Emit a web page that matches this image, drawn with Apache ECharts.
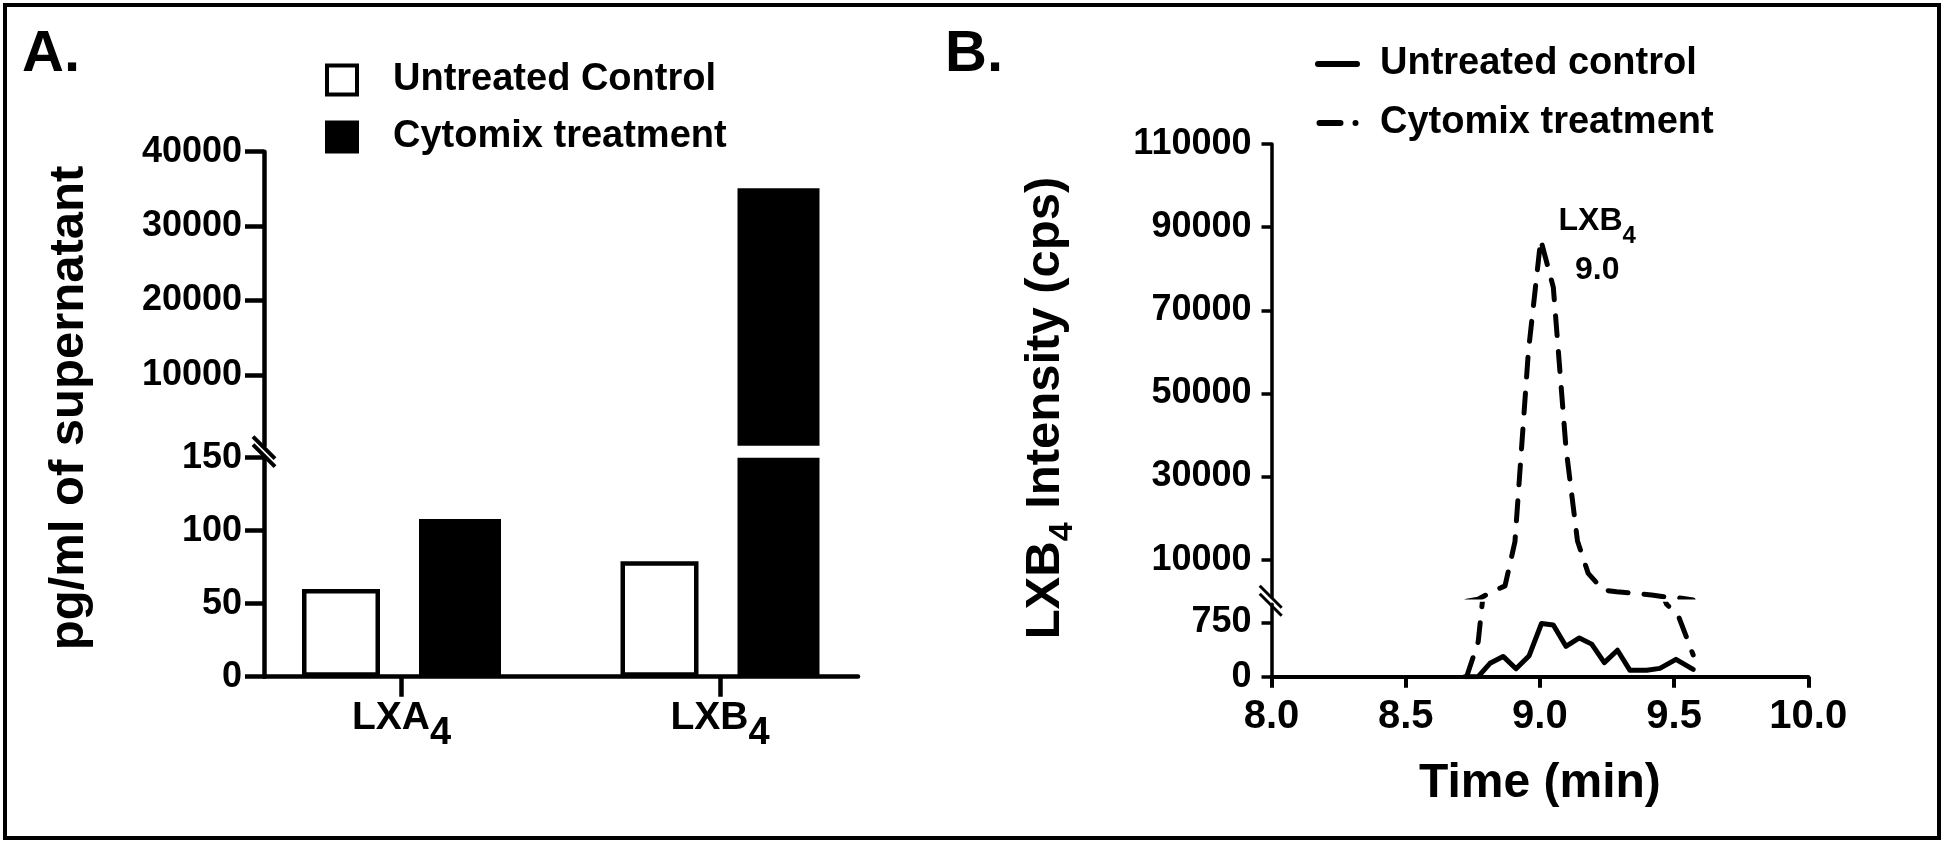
<!DOCTYPE html>
<html>
<head>
<meta charset="utf-8">
<script src="https://cdn.jsdelivr.net/npm/echarts@6.0.0/dist/echarts.min.js"></script>
<style>
html,body{margin:0;padding:0;background:#fff;}
#chart{width:1950px;height:847px;}
</style>
</head>
<body>
<div id="chart"></div>
<script>
// ---------------- DATA ----------------
// Panel A: lipoxin levels (pg/ml of supernatant)
const barCategories = ['LXA4', 'LXB4'];
const untreatedPg = [60, 79];
const cytomixPg = [108, 35100];
const aLowerTicks = [0, 50, 100, 150];
const aUpperTicks = [10000, 20000, 30000, 40000];

// Panel B: LXB4 chromatogram (time in min, intensity in cps)
const controlTime = [8.720, 8.770, 8.814, 8.863, 8.911, 8.960, 9.006, 9.050, 9.097, 9.147, 9.193, 9.240, 9.289, 9.335, 9.398, 9.447, 9.507, 9.571];
const controlCps  = [0, 0, 185, 280, 110, 290, 735, 715, 420, 535, 450, 195, 365, 90, 90, 115, 240, 100];
const cytomixTime = [8.727, 8.770, 8.816, 8.870, 8.907, 8.957, 9.003, 9.050, 9.097, 9.140, 9.180, 9.236, 9.286, 9.329, 9.416, 9.472, 9.515, 9.571];
const cytomixCps  = [0, 480, 2100, 3700, 14300, 60000, 87000, 75500, 37000, 14500, 6700, 2700, 2300, 2060, 1500, 1000, 850, 300];
const bXTicks = [8.0, 8.5, 9.0, 9.5, 10.0];
const bLowerTicks = [0, 750];
const bUpperTicks = [10000, 30000, 50000, 70000, 90000, 110000];

// ---------------- LAYOUT ----------------
const FONT = "'Liberation Sans', Arial, Helvetica, sans-serif";
const A = {x0: 264, x1: 858, upTop: 151.7, upBot: 445.7, loTop: 457.7, loBot: 676.7,
           barL: 242.25, barR: 879.25, lo: [0, 150], up: [500, 40000]};
const B = {x0: 1271.5, x1: 1808.3, upTop: 144, upBot: 597.1, loTop: 604.3, loBot: 676.7,
           lo: [0, 1000], up: [1000, 110000]};

function grid(l, r, t, b) {
  return {left: l, top: t, width: r - l, height: b - t, containLabel: false, outerBoundsMode: 'none'};
}
function hiddenAxis(gi, min, max, extra) {
  return Object.assign({type: 'value', gridIndex: gi, min: min, max: max, show: false}, extra || {});
}
const blk = '#000';
function lbl(size, margin, extra) {
  return Object.assign({show: true, color: blk, fontFamily: FONT, fontWeight: 'bold', fontSize: size, margin: margin}, extra || {});
}
function line(w) { return {show: true, onZero: false, lineStyle: {color: blk, width: w}}; }
function tick(len, w, extra) { return Object.assign({show: true, length: len, lineStyle: {color: blk, width: w}}, extra || {}); }
const noSplit = {show: false};

const subRich = (main, sub, lh, extra) => ({
  b: Object.assign({fontSize: main, fontWeight: 'bold', fontFamily: FONT, color: blk, lineHeight: lh}, extra || {}),
  s: Object.assign({fontSize: sub, fontWeight: 'bold', fontFamily: FONT, color: blk, lineHeight: sub, verticalAlign: 'bottom'}, extra || {})
});

const peakIdx = cytomixCps.indexOf(Math.max(...cytomixCps));
const cytoData = cytomixTime.map((t, i) => [t, cytomixCps[i]]);
const ctrlData = controlTime.map((t, i) => [t, controlCps[i]]);

const LW = 5;
const dashStyle = {color: blk, width: LW, type: [20, 16], cap: 'round', join: 'round'};
const solidStyle = {color: blk, width: LW, type: 'solid', cap: 'round', join: 'round'};

// legend glyphs for panel B (solid stroke; long dash + dot)
const solidIcon = 'path://M3,0 h39 a3,3 0 0 1 0,6 h-39 a3,3 0 0 1 0,-6 z';
const dashIcon = 'path://M3,0 h21 a3,3 0 0 1 0,6 h-21 a3,3 0 0 1 0,-6 z M39,0 a3,3 0 1 1 0,6 a3,3 0 1 1 0,-6 z';

const option = {
  animation: false,
  textStyle: {fontFamily: FONT},
  grid: [
    grid(A.x0, A.x1, A.loTop, A.loBot),     // 0 A lower axes
    grid(A.x0, A.x1, A.upTop, A.upBot),     // 1 A upper axes
    grid(A.barL, A.barR, A.loTop, A.loBot), // 2 A lower bars
    grid(A.barL, A.barR, A.upTop, A.upBot), // 3 A upper bars
    grid(A.x0, A.x1, 140, 676),             // 4 A name
    grid(B.x0, B.x1, B.loTop, B.loBot),     // 5 B lower
    grid(B.x0, B.x1, B.upTop, B.upBot),     // 6 B upper
    grid(B.x0, B.x1, 144, 672)              // 7 B name
  ],
  xAxis: [
    {type: 'value', gridIndex: 0, min: 0, max: 1, axisLine: line(4.5), axisTick: {show: false}, axisLabel: {show: false}, splitLine: noSplit},
    hiddenAxis(1, 0, 1),
    {type: 'category', gridIndex: 2, data: barCategories, boundaryGap: true,
     axisLine: {show: false}, axisTick: tick(20, 4.5, {alignWithLabel: true}),
     axisLabel: lbl(39, 7, {formatter: v => '{b|' + v.slice(0, -1) + '}{s|' + v.slice(-1) + '}', rich: subRich(39, 38, 69)}),
     splitLine: noSplit},
    {type: 'category', gridIndex: 3, data: barCategories, show: false},
    hiddenAxis(4, 0, 1),
    {type: 'value', gridIndex: 5, min: 8, max: 10, interval: 0.5,
     axisLine: line(4), axisTick: tick(11, 4), splitLine: noSplit,
     axisLabel: lbl(40, 20, {formatter: v => Number(v).toFixed(1)}),
     name: 'Time (min)', nameLocation: 'middle', nameGap: 83.5,
     nameTextStyle: {fontSize: 48, fontWeight: 'bold', color: blk, fontFamily: FONT, lineHeight: 48}},
    hiddenAxis(6, 8, 10),
    hiddenAxis(7, 8, 10)
  ],
  yAxis: [
    {type: 'value', gridIndex: 0, min: A.lo[0], max: A.lo[1], interval: 50,
     axisLine: line(4.5), axisTick: tick(19, 4.5), splitLine: noSplit,
     axisLabel: lbl(36, 22, {formatter: v => String(v)})},
    {type: 'value', gridIndex: 1, min: A.up[0], max: A.up[1],
     axisLine: line(4.5), axisTick: tick(19, 4.5, {customValues: aUpperTicks}), splitLine: noSplit,
     axisLabel: lbl(36, 22, {customValues: aUpperTicks, formatter: v => String(v)})},
    hiddenAxis(2, A.lo[0], A.lo[1]),
    hiddenAxis(3, A.up[0], A.up[1]),
    {type: 'value', gridIndex: 4, min: 0, max: 1,
     axisLine: {show: false}, axisTick: {show: false}, axisLabel: {show: false}, splitLine: noSplit,
     name: 'pg/ml of supernatant', nameLocation: 'middle', nameRotate: 90, nameGap: 170,
     nameTextStyle: {fontSize: 49, fontWeight: 'bold', color: blk, fontFamily: FONT, lineHeight: 49}},
    {type: 'value', gridIndex: 5, min: B.lo[0], max: B.lo[1],
     axisLine: line(3.5), axisTick: tick(10, 3.5, {customValues: bLowerTicks}), splitLine: noSplit,
     axisLabel: lbl(36, 20, {customValues: bLowerTicks, formatter: v => String(v)})},
    {type: 'value', gridIndex: 6, min: B.up[0], max: B.up[1],
     axisLine: line(3.5), axisTick: tick(10, 3.5, {customValues: bUpperTicks}), splitLine: noSplit,
     axisLabel: lbl(36, 20, {customValues: bUpperTicks, formatter: v => String(v)})},
    {type: 'value', gridIndex: 7, min: 0, max: 1,
     axisLine: {show: false}, axisTick: {show: false}, axisLabel: {show: false}, splitLine: noSplit,
     name: '{b|LXB}{s|4}{b| Intensity (cps)}', nameLocation: 'middle', nameRotate: 90, nameGap: 192,
     nameTextStyle: {rich: subRich(49, 34, 68)}}
  ],
  legend: [
    {left: 325, top: 61, orient: 'vertical', padding: 0, itemGap: 19, itemWidth: 30, itemHeight: 29,
     icon: 'rect', selectedMode: false,
     data: [
       {name: 'Untreated Control', itemStyle: {color: '#fff', borderColor: blk, borderWidth: 4}},
       {name: 'Cytomix treatment', itemStyle: {color: blk, borderColor: blk, borderWidth: 4}}
     ],
     textStyle: {fontSize: 38, fontWeight: 'bold', color: blk, fontFamily: FONT, lineHeight: 38, padding: [0, 0, 0, 31]}},
    {left: 1315, top: 45, orient: 'vertical', padding: 0, itemGap: 21, itemWidth: 45, itemHeight: 6,
     selectedMode: false,
     data: [
       {name: 'Untreated control', icon: solidIcon, itemStyle: {color: blk, borderWidth: 0}},
       {name: 'Cytomix treatment (B)', icon: dashIcon, itemStyle: {color: blk, borderWidth: 0}}
     ],
     formatter: n => n.replace(' (B)', ''),
     textStyle: {fontSize: 38, fontWeight: 'bold', color: blk, fontFamily: FONT, lineHeight: 38, padding: [0, 0, 0, 15]}}
  ],
  series: [
    {type: 'bar', name: 'Untreated Control', xAxisIndex: 2, yAxisIndex: 2, data: untreatedPg,
     barWidth: 78, barGap: '50%', clip: true, silent: true,
     itemStyle: {color: '#fff', borderColor: blk, borderWidth: 4.5}},
    {type: 'bar', name: 'Cytomix treatment', xAxisIndex: 2, yAxisIndex: 2, data: cytomixPg,
     barWidth: 82, barGap: '50%', clip: true, silent: true,
     itemStyle: {color: blk, borderWidth: 0}},
    {type: 'bar', name: 'Untreated Control', xAxisIndex: 3, yAxisIndex: 3, data: untreatedPg,
     barWidth: 78, barGap: '50%', clip: true, silent: true,
     itemStyle: {color: '#fff', borderColor: blk, borderWidth: 4.5}},
    {type: 'bar', name: 'Cytomix treatment', xAxisIndex: 3, yAxisIndex: 3, data: cytomixPg,
     barWidth: 82, barGap: '50%', clip: true, silent: true,
     itemStyle: {color: blk, borderWidth: 0}},
    {type: 'line', name: 'Untreated control', xAxisIndex: 5, yAxisIndex: 5, data: ctrlData,
     symbol: 'none', clip: true, silent: true, lineStyle: solidStyle, itemStyle: {color: blk}, z: 5},
    {type: 'line', name: 'Cytomix treatment (B)', xAxisIndex: 5, yAxisIndex: 5, data: cytoData,
     symbol: 'none', clip: true, silent: true, lineStyle: dashStyle, itemStyle: {color: blk}, z: 5},
    {type: 'line', name: 'Cytomix treatment (B)', xAxisIndex: 6, yAxisIndex: 6, data: cytoData,
     symbol: 'none', clip: true, silent: true, lineStyle: dashStyle, itemStyle: {color: blk}, z: 5,
     markPoint: {
       silent: true, symbol: 'circle', symbolSize: 1, itemStyle: {color: 'rgba(0,0,0,0)'},
       data: [{
         coord: cytoData[peakIdx],
         label: {
           show: true, position: [57, 4], align: 'center', verticalAlign: 'middle',
           formatter: '{b|LXB}{s|4}\n{c|' + cytomixTime[peakIdx].toFixed(1) + '}',
           rich: {
             b: {fontSize: 32, fontWeight: 'bold', fontFamily: FONT, color: blk, lineHeight: 54, align: 'center'},
             s: {fontSize: 24, fontWeight: 'bold', fontFamily: FONT, color: blk, lineHeight: 24, verticalAlign: 'bottom', align: 'center'},
             c: {fontSize: 32, fontWeight: 'bold', fontFamily: FONT, color: blk, lineHeight: 44, align: 'center'}
           }
         }
       }]
     }}
  ],
  graphic: [
    {type: 'rect', silent: true, z: 100, shape: {x: 5, y: 5, width: 1934, height: 833},
     style: {fill: 'none', stroke: blk, lineWidth: 4}},
    {type: 'text', silent: true, x: 22, y: 55,
     style: {text: 'A.', fontSize: 58, fontWeight: 'bold', fontFamily: FONT, fill: blk, align: 'left', verticalAlign: 'middle'}},
    {type: 'text', silent: true, x: 945, y: 55,
     style: {text: 'B.', fontSize: 58, fontWeight: 'bold', fontFamily: FONT, fill: blk, align: 'left', verticalAlign: 'middle'}}
  ]
};

// axis-break marks ("\\") drawn where the two segments of each broken axis meet
function breakMarks(cx, cy, w) {
  return [-4, 4].map(d => ({
    type: 'line', silent: true, z: 100,
    shape: {x1: cx - 11, y1: cy + d - 11, x2: cx + 11, y2: cy + d + 11},
    style: {stroke: blk, lineWidth: w}
  }));
}
option.graphic.push(...breakMarks(A.x0, (A.upBot + A.loTop) / 2, 4));
option.graphic.push(...breakMarks(B.x0 - 0.8, (B.upBot + B.loTop) / 2, 3));

const chart = echarts.init(document.getElementById('chart'), null, {renderer: 'canvas'});
chart.setOption(option);
</script>
</body>
</html>
